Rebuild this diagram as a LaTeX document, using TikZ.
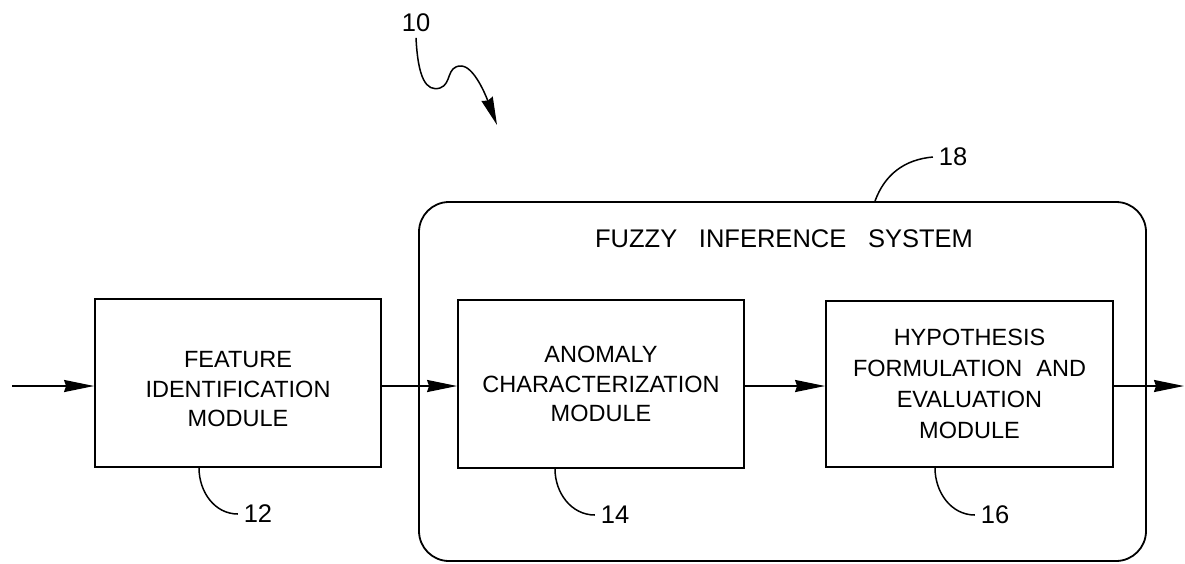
\documentclass[tikz,border=0pt]{standalone}
\usepackage{fontspec}
\setmainfont{Liberation Sans}
\usetikzlibrary{arrows.meta}
\begin{document}
\begin{tikzpicture}[x=1pt,y=-1pt,line width=1.8pt,
  txt/.style={font=\fontsize{23.5}{29.5}\selectfont},
  module/.style={draw,txt,align=center,inner sep=0pt,minimum width=286pt,minimum height=168pt},
  refnum/.style={font=\fontsize{25.5}{30}\selectfont,inner sep=5pt},
  flow/.style={-{Stealth[length=30pt,width=12pt,inset=2pt]}},
  leader/.style={line width=1.5pt}]
\useasboundingbox (0,0) rectangle (1185,563);
% system frame
\node[draw,rounded corners=30pt,minimum width=727pt,minimum height=359pt,inner sep=0pt] (fis) at (782.5,381.5) {};
\node[font=\fontsize{25.5}{30}\selectfont] (title) at (784,239) {FUZZY\hspace{0.85em}INFERENCE\hspace{0.85em}SYSTEM};
% modules
\node[module] (fim) at (238,383) {\rule{0pt}{29pt}FEATURE\\IDENTIFICATION\\MODULE};
\node[module] (acm) at (601,384) {ANOMALY\\CHARACTERIZATION\\MODULE};
\node[module,minimum width=287pt,minimum height=166pt,font=\fontsize{23.5}{31}\selectfont] (hfe) at (969.5,384) {HYPOTHESIS\\FORMULATION\hspace{0.6em}AND\\EVALUATION\\MODULE};
% flow arrows
\coordinate (in) at (12,386);
\coordinate (out) at (1184,386);
\draw[flow] (in) -- (in -| fim.west);
\draw[flow] (fim.east |- in) -- (acm.west |- in);
\draw[flow] (acm.east |- in) -- (hfe.west |- in);
\draw[flow] (hfe.east |- out) -- (out);
% reference numerals
\node[refnum] (l10) at (416,23) {10};
\node[refnum] (l18) at (953,157) {18};
\node[refnum] (l12) at (258,514) {12};
\node[refnum] (l14) at (615,515) {14};
\node[refnum] (l16) at (995,515) {16};
\coordinate (p10) at (497,125);
\draw[leader,-{Stealth[length=28pt,width=12pt,inset=2pt]}] (l10.south) .. controls (418,78) and (426,92) .. (440,88) .. controls (452,84) and (446,66) .. (461,66) .. controls (474,66) and (486,96) .. (p10);
\draw[leader] (l18.west) to[out=185,in=70] (fis.north -| 875,0);
\draw[leader] (fim.south -| 199,0) to[out=-90,in=180] (l12.west);
\draw[leader] (acm.south -| 555,0) to[out=-90,in=180] (l14.west);
\draw[leader] (hfe.south -| 935,0) to[out=-90,in=180] (l16.west);
\end{tikzpicture}
\end{document}
